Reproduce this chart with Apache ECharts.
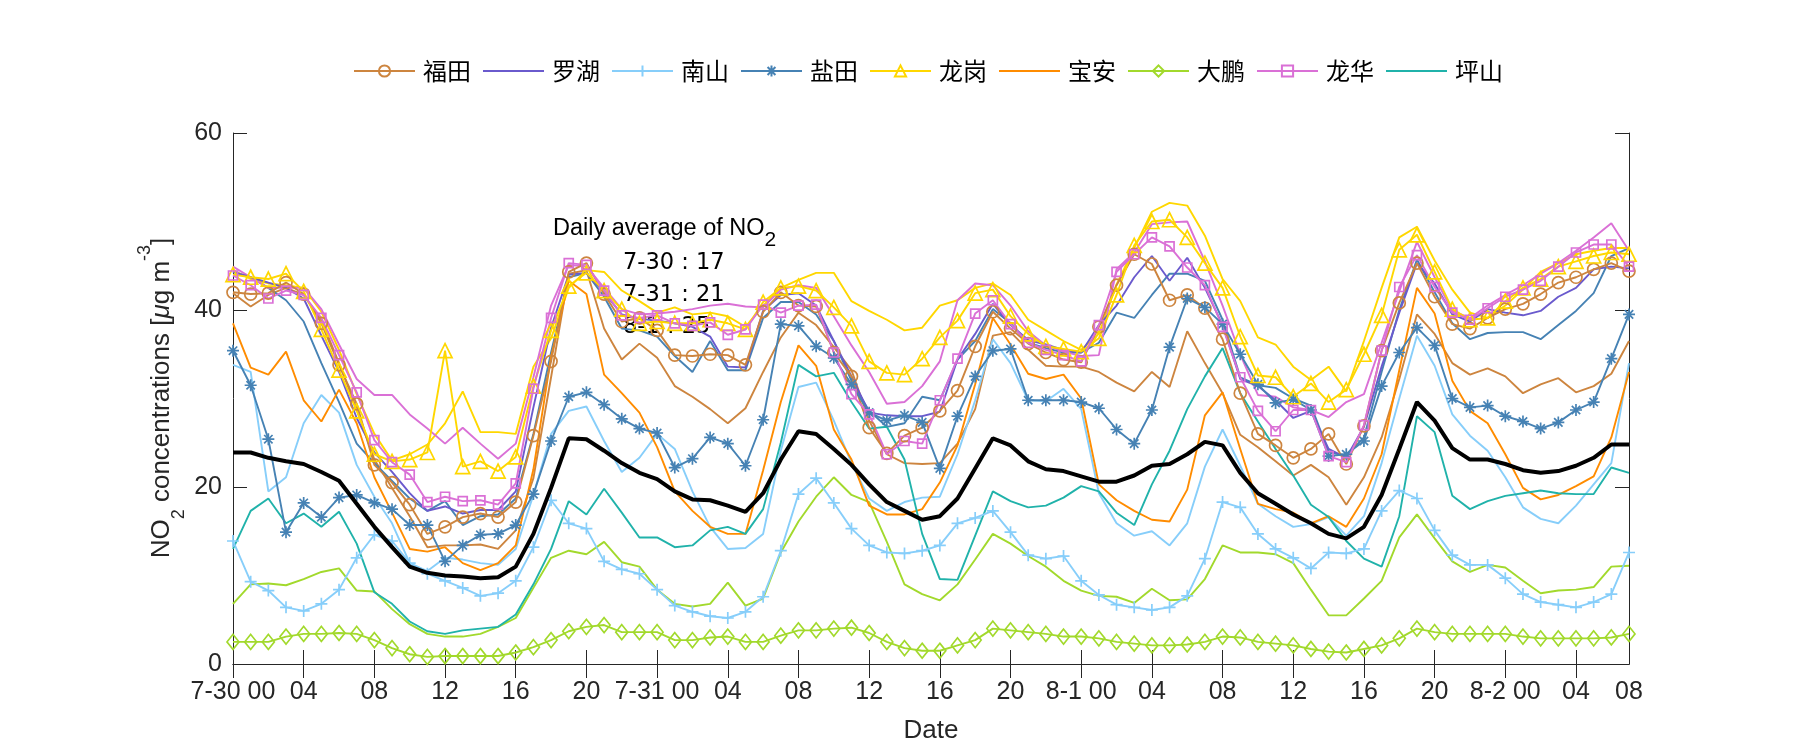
<!DOCTYPE html>
<html>
<head>
<meta charset="utf-8">
<script src="https://cdn.jsdelivr.net/npm/echarts@6/dist/echarts.min.js"></script>
<style>
html,body{margin:0;padding:0;background:#fff;}
#main{width:1800px;height:750px;}
</style>
</head>
<body>
<div id="main"></div>
<script>
// ---- categories (hourly, 7-30 00 .. 8-2 07) ----
const days = ['7-30', '7-31', '8-1', '8-2'];
const categories = [];
for (let i = 0; i < 80; i++) {
  categories.push(days[Math.floor(i / 24)] + ' ' + String(i % 24).padStart(2, '0'));
}
const tickIndex = [0, 4, 8, 12, 16, 20, 24, 28, 32, 36, 40, 44, 48, 52, 56, 60, 64, 68, 72, 76, 79];
const tickLabels = ['7-30 00', '04', '08', '12', '16', '20', '7-31 00', '04', '08', '12', '16', '20',
  '8-1 00', '04', '08', '12', '16', '20', '8-2 00', '04', '08'];
const legendNames = ['福田', '罗湖', '南山', '盐田', '龙岗', '宝安', '大鹏', '龙华', '坪山'];
const plainLegend = ['罗湖', '宝安', '坪山'];
const dailyAvg = [['7-30', 17], ['7-31', 21], ['8-1', 25]];

// ---- series values ----
const futian = [42.0, 41.8, 41.9, 43.1, 41.8, 38.5, 33.8, 29.4, 22.5, 20.5, 18.0, 14.7,
  15.5, 16.6, 17.0, 16.6, 18.3, 25.8, 34.2, 44.3, 45.3, 41.8, 38.7, 39.1,
  37.7, 34.9, 34.8, 35.0, 34.9, 33.8, 39.8, 42.0, 40.5, 40.4, 35.2, 32.5,
  26.7, 23.8, 25.8, 26.7, 28.6, 30.9, 35.9, 39.8, 37.9, 36.2, 35.2, 34.4,
  34.1, 38.1, 42.8, 46.3, 45.2, 41.1, 41.7, 40.2, 36.7, 30.6, 26.0, 24.7,
  23.3, 24.3, 26.0, 22.6, 26.9, 35.4, 40.8, 45.3, 41.5, 38.4, 37.9, 39.1,
  40.1, 40.7, 41.8, 43.1, 43.7, 44.6, 45.3, 44.4];
const futian2 = [41.9, 40.4, 41.7, 42.5, 41.7, 38.9, 34.0, 28.8, 23.1, 19.9, 16.7, 13.2,
  13.4, 13.4, 13.5, 13.0, 15.1, 21.0, 32.4, 44.1, 44.5, 37.9, 34.4, 36.2,
  34.6, 31.4, 30.2, 28.8, 27.2, 28.9, 33.0, 36.9, 39.7, 38.3, 35.8, 33.2,
  27.5, 23.7, 22.7, 22.6, 22.7, 24.9, 28.8, 37.1, 37.5, 35.5, 33.7, 33.6,
  33.6, 33.0, 31.8, 30.8, 33.0, 31.3, 37.6, 34.0, 30.6, 25.9, 24.5, 22.9,
  21.3, 22.5, 21.1, 18.0, 21.1, 25.6, 32.2, 39.5, 37.3, 34.0, 32.7, 33.4,
  32.5, 30.6, 31.6, 32.3, 30.7, 31.4, 32.8, 36.5];
const luohu = [44.3, 43.7, 43.1, 42.5, 41.3, 37.1, 33.0, 27.8, 23.9, 21.7, 19.3, 17.3,
  17.8, 17.0, 17.4, 17.4, 19.5, 29.0, 38.0, 44.0, 44.2, 42.0, 39.5, 39.0,
  38.8, 38.5, 38.1, 37.0, 33.6, 33.5, 39.9, 41.7, 41.9, 40.5, 36.5, 32.5,
  28.4, 28.1, 28.0, 28.0, 28.5, 34.4, 37.3, 40.7, 38.3, 36.6, 36.1, 35.5,
  35.2, 38.3, 40.5, 43.7, 46.1, 43.3, 45.9, 42.5, 38.3, 32.2, 31.4, 29.8,
  27.8, 28.6, 24.3, 23.3, 26.8, 33.6, 39.7, 45.3, 43.0, 39.5, 38.7, 40.1,
  39.7, 39.4, 39.9, 41.5, 42.5, 44.6, 44.9, 44.7];
const nanshan = [13.9, 9.3, 8.3, 6.4, 6.0, 6.8, 8.4, 12.0, 14.6, 13.9, 11.4, 10.2,
  9.4, 8.6, 7.7, 8.0, 9.4, 13.2, 18.5, 15.9, 15.3, 11.6, 10.7, 10.2,
  8.4, 6.6, 5.9, 5.4, 5.2, 5.9, 7.6, 12.8, 19.2, 21.0, 18.2, 15.3,
  13.4, 12.6, 12.5, 12.8, 13.4, 15.9, 16.5, 17.3, 14.9, 12.3, 11.9, 12.2,
  9.4, 7.8, 6.7, 6.4, 6.1, 6.4, 7.7, 11.9, 18.3, 17.7, 14.7, 13.0,
  12.0, 10.8, 12.6, 12.5, 13.0, 17.3, 19.6, 18.7, 15.1, 12.3, 11.2, 11.2,
  9.7, 7.9, 7.0, 6.7, 6.4, 7.0, 7.9, 12.6];
const nanshan2 = [33.8, 33.0, 19.5, 21.1, 27.2, 30.4, 28.4, 22.5, 18.9, 15.9, 11.4, 10.5,
  12.0, 11.8, 11.4, 11.2, 13.0, 19.1, 26.0, 28.6, 29.1, 25.2, 21.7, 23.3,
  26.0, 24.3, 19.5, 15.5, 13.0, 13.1, 14.7, 24.1, 31.3, 31.8, 27.5, 22.7,
  18.7, 17.3, 18.3, 18.8, 18.9, 23.7, 29.8, 36.7, 34.0, 29.8, 29.7, 31.1,
  28.8, 19.3, 15.9, 14.5, 15.0, 13.4, 15.9, 22.3, 26.5, 22.4, 18.1, 16.7,
  15.5, 15.8, 16.6, 14.5, 16.7, 22.7, 30.0, 37.1, 33.7, 28.2, 25.8, 24.1,
  21.1, 17.7, 16.4, 15.9, 17.9, 20.3, 22.7, 34.0];
const yantian = [35.4, 31.5, 25.4, 14.9, 18.2, 16.6, 18.8, 19.1, 18.2, 17.5, 15.7, 15.7,
  11.6, 13.4, 14.6, 14.7, 15.7, 19.2, 25.2, 30.2, 30.7, 29.3, 27.7, 26.6,
  26.1, 22.2, 23.2, 25.6, 24.9, 22.4, 27.6, 38.4, 38.2, 35.9, 34.6, 31.6,
  28.4, 27.5, 28.1, 27.3, 22.1, 28.0, 32.5, 35.4, 35.6, 29.8, 29.8, 29.8,
  29.6, 28.9, 26.5, 24.9, 28.7, 35.8, 41.3, 40.3, 38.4, 35.0, 31.6, 29.5,
  29.9, 28.7, 23.5, 23.7, 25.2, 31.4, 35.2, 38.0, 36.0, 30.0, 29.0, 29.2,
  28.0, 27.4, 26.6, 27.3, 28.7, 29.6, 34.5, 39.5];
const yantian2 = [44.3, 43.7, 42.5, 41.1, 38.7, 34.0, 29.6, 24.9, 22.7, 20.7, 18.7, 17.3,
  18.4, 15.7, 16.7, 16.9, 18.7, 26.0, 35.2, 43.7, 44.2, 41.5, 37.9, 37.7,
  37.0, 34.8, 33.0, 36.5, 33.2, 33.2, 39.1, 40.9, 40.9, 39.5, 36.5, 32.0,
  28.6, 26.8, 27.2, 30.2, 29.8, 34.4, 36.5, 40.1, 38.5, 36.3, 35.7, 35.2,
  35.2, 36.3, 39.7, 39.1, 41.7, 44.1, 44.1, 43.3, 38.9, 32.4, 31.5, 31.2,
  30.0, 29.2, 24.0, 23.5, 25.6, 33.0, 40.0, 45.7, 42.0, 38.5, 36.7, 37.4,
  37.5, 37.5, 36.7, 38.3, 39.9, 41.9, 46.1, 47.0];
const longgang = [44.0, 43.7, 43.5, 44.1, 42.1, 37.8, 33.2, 28.6, 23.7, 22.9, 23.1, 23.9,
  35.4, 22.3, 22.9, 21.8, 23.4, 31.4, 37.7, 42.7, 44.2, 42.2, 40.1, 38.5,
  38.7, 38.5, 38.5, 38.9, 38.5, 37.8, 40.9, 42.5, 42.7, 42.2, 40.3, 38.2,
  34.2, 32.9, 32.7, 34.5, 36.9, 38.8, 41.9, 42.3, 39.3, 37.3, 35.9, 35.6,
  35.3, 36.8, 41.7, 47.3, 50.0, 50.2, 48.2, 45.3, 42.5, 37.0, 32.6, 32.4,
  30.2, 31.7, 29.6, 31.0, 35.0, 39.4, 46.8, 48.5, 44.3, 40.1, 38.9, 39.1,
  41.0, 42.5, 43.5, 44.9, 45.5, 46.1, 46.5, 46.3];
const longgang2 = [44.5, 43.5, 43.0, 42.8, 42.5, 39.8, 35.5, 30.5, 26.0, 23.0, 23.7, 24.8,
  27.2, 30.8, 26.2, 26.2, 26.0, 33.6, 36.8, 42.5, 44.5, 44.3, 42.2, 41.0,
  39.7, 40.3, 39.5, 39.7, 39.3, 38.1, 40.5, 42.5, 43.4, 44.2, 44.2, 41.0,
  39.9, 38.9, 37.7, 38.0, 40.5, 41.1, 42.5, 43.0, 41.7, 38.9, 37.7, 36.5,
  35.5, 37.3, 42.9, 47.0, 51.1, 52.1, 51.8, 48.4, 43.5, 41.0, 36.9, 36.1,
  33.6, 32.1, 33.6, 30.8, 36.5, 42.5, 48.2, 49.4, 45.6, 42.3, 39.7, 39.1,
  40.5, 42.3, 44.3, 45.3, 46.3, 46.7, 47.0, 47.0];
const baoan = [38.5, 33.5, 32.7, 35.3, 29.8, 27.4, 31.0, 27.2, 21.1, 17.1, 13.0, 12.7,
  13.2, 11.4, 10.6, 11.4, 13.4, 22.0, 34.7, 43.3, 41.8, 32.7, 30.6, 28.4,
  24.5, 19.5, 17.3, 15.5, 14.7, 14.7, 21.9, 29.6, 36.0, 33.7, 26.5, 23.1,
  17.9, 16.9, 16.9, 17.5, 20.5, 24.7, 31.6, 39.1, 36.1, 32.8, 32.2, 32.7,
  30.0, 20.3, 18.5, 17.3, 16.3, 16.1, 19.7, 28.1, 30.7, 24.3, 18.1, 17.5,
  17.1, 15.9, 16.7, 15.5, 18.7, 23.7, 33.2, 42.5, 39.6, 32.0, 28.6, 27.2,
  23.7, 19.9, 18.6, 19.1, 20.1, 21.2, 25.6, 33.0];
const dapeng = [2.5, 2.5, 2.5, 3.1, 3.4, 3.4, 3.5, 3.4, 2.7, 1.8, 1.1, 0.8,
  0.9, 0.9, 0.9, 0.9, 1.3, 1.9, 2.7, 3.7, 4.2, 4.4, 3.6, 3.6,
  3.6, 2.7, 2.7, 3.0, 3.1, 2.5, 2.5, 3.2, 3.8, 3.8, 4.0, 4.1,
  3.5, 2.5, 1.8, 1.5, 1.5, 2.1, 2.7, 4.0, 3.8, 3.6, 3.4, 3.1,
  3.1, 2.9, 2.5, 2.3, 2.1, 2.1, 2.2, 2.5, 3.1, 3.0, 2.5, 2.3,
  2.1, 1.7, 1.4, 1.3, 1.7, 2.1, 2.9, 4.0, 3.6, 3.4, 3.4, 3.4,
  3.4, 3.1, 2.9, 2.9, 2.9, 2.9, 3.0, 3.4];
const dapeng2 = [6.8, 9.0, 9.1, 8.9, 9.6, 10.4, 10.8, 8.3, 8.2, 6.2, 4.5, 3.4,
  3.1, 3.1, 3.4, 4.2, 5.2, 8.6, 12.0, 12.8, 12.4, 13.8, 11.5, 11.0,
  8.4, 6.8, 6.5, 6.8, 9.2, 6.6, 7.4, 12.6, 16.1, 18.9, 21.1, 19.1,
  18.3, 13.8, 9.0, 7.9, 7.2, 9.0, 11.8, 14.7, 13.6, 12.2, 11.0, 9.4,
  8.3, 7.7, 7.6, 6.9, 8.5, 7.2, 7.3, 9.6, 13.4, 12.6, 12.6, 12.4,
  11.4, 8.4, 5.5, 5.5, 7.4, 9.4, 14.3, 16.9, 14.2, 11.6, 10.4, 11.2,
  10.9, 9.4, 8.0, 8.3, 8.4, 8.7, 11.0, 11.1];
const longhua = [43.9, 42.8, 41.3, 42.2, 41.7, 39.1, 34.9, 30.7, 25.3, 22.8, 21.4, 18.3,
  18.9, 18.4, 18.5, 18.0, 20.4, 31.1, 39.1, 45.3, 45.1, 42.2, 39.4, 39.1,
  39.4, 38.5, 38.2, 38.6, 37.2, 37.8, 40.6, 39.7, 40.5, 40.6, 35.2, 30.5,
  28.2, 23.7, 25.2, 24.9, 29.8, 34.5, 39.6, 41.1, 38.4, 36.3, 35.5, 34.9,
  34.2, 38.3, 44.3, 46.3, 48.2, 47.2, 44.8, 42.8, 38.1, 32.4, 28.6, 26.3,
  28.7, 28.7, 23.5, 22.8, 27.0, 35.4, 42.6, 46.2, 42.6, 39.7, 38.9, 40.2,
  41.5, 42.3, 43.3, 44.9, 46.5, 47.4, 47.4, 44.9];
const longhua2 = [44.9, 43.7, 42.5, 42.5, 42.5, 40.1, 36.1, 32.2, 30.4, 30.4, 28.2, 26.6,
  24.9, 26.7, 24.9, 23.2, 24.9, 32.4, 40.5, 45.1, 44.9, 42.5, 40.1, 39.5,
  39.6, 39.8, 40.1, 40.5, 40.7, 40.4, 40.3, 42.3, 42.8, 42.5, 39.3, 36.0,
  33.0, 29.4, 29.6, 31.4, 34.2, 41.1, 43.0, 42.8, 40.5, 37.6, 36.0, 35.3,
  34.8, 34.9, 44.6, 46.5, 49.7, 49.9, 50.0, 45.5, 40.5, 35.0, 30.4, 30.2,
  29.0, 28.7, 27.9, 29.6, 30.5, 36.3, 42.1, 47.7, 43.7, 39.9, 39.1, 40.5,
  41.7, 42.8, 44.1, 45.3, 46.7, 48.2, 49.8, 46.7];
const pingshan = [13.0, 17.3, 18.7, 15.9, 17.0, 15.5, 17.2, 13.6, 8.1, 6.8, 4.8, 3.7,
  3.4, 3.8, 4.0, 4.2, 5.6, 9.0, 13.0, 18.4, 16.9, 19.8, 17.1, 14.3,
  14.3, 13.2, 13.4, 15.1, 15.5, 14.7, 17.5, 25.0, 33.8, 32.5, 32.9, 29.6,
  26.6, 26.8, 23.1, 14.7, 9.6, 9.5, 14.5, 19.5, 18.4, 17.7, 17.9, 18.8,
  20.1, 19.5, 17.1, 15.7, 20.3, 24.1, 28.8, 32.5, 35.7, 30.6, 27.4, 24.3,
  21.3, 18.0, 16.6, 13.9, 11.9, 11.0, 16.7, 28.0, 26.2, 19.0, 17.5, 18.4,
  19.0, 19.3, 19.6, 19.3, 19.2, 19.2, 22.2, 21.6];
const average = [23.9, 23.9, 23.3, 22.9, 22.6, 21.7, 20.7, 18.1, 15.5, 13.2, 11.0, 10.3,
  10.0, 9.9, 9.7, 9.8, 11.0, 14.7, 19.9, 25.5, 25.4, 24.1, 22.7, 21.6,
  20.9, 19.5, 18.6, 18.5, 17.9, 17.2, 19.3, 23.1, 26.3, 26.0, 24.3, 22.5,
  20.3, 18.3, 17.3, 16.3, 16.7, 18.7, 22.1, 25.5, 24.7, 22.9, 22.0, 21.8,
  21.2, 20.6, 20.6, 21.3, 22.4, 22.6, 23.7, 25.1, 24.7, 21.6, 19.3, 18.1,
  16.9, 15.9, 14.7, 14.2, 15.5, 19.1, 24.3, 29.6, 27.5, 24.4, 23.1, 23.1,
  22.6, 21.9, 21.6, 21.8, 22.4, 23.3, 24.8, 24.8];

// ---- styling ----
const C = {
  ft: '#CD853F', lu: '#6A5ACD', ns: '#87CEFA', yt: '#4682B4', lg: '#FFD700',
  ba: '#FF8C00', dp: '#A2D92C', lh: '#DA70D6', ps: '#20B2AA'
};
const PLUS = 'path://M0,5L10,5M5,0L5,10';
const STAR = 'path://M0,5L10,5M5,0L5,10M1.5,1.5L8.5,8.5M1.5,8.5L8.5,1.5';
const LW = 1.9;

function plain(name, data, color) {
  return {
    name, type: 'line', data, symbol: 'none', showSymbol: false,
    lineStyle: { color, width: LW }, itemStyle: { color }, z: 2,
    emphasis: { disabled: true }
  };
}
function marked(name, data, color, symbol, size) {
  return {
    name, type: 'line', data, symbol, symbolSize: size, showSymbol: true, showAllSymbol: true,
    lineStyle: { color, width: LW },
    itemStyle: { color: 'rgba(0,0,0,0)', borderColor: color, borderWidth: 1.7 },
    z: 3, emphasis: { disabled: true }
  };
}

const series = [
  plain('福田 ', futian2, C.ft),
  plain('南山 ', nanshan2, C.ns),
  plain('盐田 ', yantian2, C.yt),
  plain('龙岗 ', longgang2, C.lg),
  plain('大鹏 ', dapeng2, C.dp),
  plain('龙华 ', longhua2, C.lh),
  marked('福田', futian, C.ft, 'circle', 12),
  plain('罗湖', luohu, C.lu),
  marked('南山', nanshan, C.ns, PLUS, 12),
  marked('盐田', yantian, C.yt, STAR, 12),
  marked('龙岗', longgang, C.lg, 'triangle', 14),
  plain('宝安', baoan, C.ba),
  marked('大鹏', dapeng, C.dp, 'diamond', [12, 15]),
  marked('龙华', longhua, C.lh, 'rect', 9),
  plain('坪山', pingshan, C.ps),
  {
    name: 'average', type: 'line', data: average, symbol: 'none', showSymbol: false,
    lineStyle: { color: '#000', width: 4 }, itemStyle: { color: '#000' }, z: 4,
    emphasis: { disabled: true }
  }
];

const axisColor = '#262626';
const tickFont = 'Liberation Sans';

const option = {
  animation: false,
  backgroundColor: '#fff',
  grid: { left: 233, right: 171, top: 133, bottom: 86, containLabel: false },
  legend: {
    data: legendNames.map(n => plainLegend.indexOf(n) >= 0 ? { name: n, itemStyle: { opacity: 0 } } : n),
    left: 348, top: 54, itemWidth: 61, itemHeight: 14, itemGap: 11,
    textStyle: { fontFamily: 'Noto Sans CJK SC', fontSize: 24, color: '#000', padding: [0, 0, 0, 3] },
    selectedMode: false
  },
  xAxis: [{
    type: 'category', data: categories, boundaryGap: false, position: 'bottom',
    axisLine: { lineStyle: { color: axisColor, width: 1 } },
    axisTick: { inside: true, length: 14, lineStyle: { color: axisColor }, interval: (i) => i % 4 === 0 },
    axisLabel: {
      interval: (i) => tickIndex.indexOf(i) >= 0,
      formatter: (v, i) => { const k = tickIndex.indexOf(i); return k >= 0 ? tickLabels[k] : ''; },
      fontFamily: tickFont, fontSize: 25, color: axisColor, margin: 16
    },
    splitLine: { show: false }
  }, {
    type: 'category', data: categories, boundaryGap: false, position: 'top',
    axisLine: { lineStyle: { color: axisColor, width: 1 } },
    axisTick: { inside: true, length: 14, lineStyle: { color: axisColor }, interval: (i) => i % 4 === 0 },
    axisLabel: { show: false }, splitLine: { show: false }
  }],
  yAxis: [{
    type: 'value', min: 0, max: 60, interval: 20, position: 'left',
    axisLine: { show: true, lineStyle: { color: axisColor, width: 1 } },
    axisTick: { show: true, inside: true, length: 14, lineStyle: { color: axisColor } },
    axisLabel: { fontFamily: tickFont, fontSize: 25, color: axisColor, margin: 11 },
    splitLine: { show: false }
  }, {
    type: 'value', min: 0, max: 60, interval: 20, position: 'right',
    axisLine: { show: true, lineStyle: { color: axisColor, width: 1 } },
    axisTick: { show: true, inside: true, length: 14, lineStyle: { color: axisColor } },
    axisLabel: { show: false }, splitLine: { show: false }
  }],
  series,
  graphic: [
    {
      type: 'text', x: 162, y: 398, rotation: Math.PI / 2, z: 0,
      style: {
        text: '{a|NO}{s|2}{a| concentrations [}{m|μ}{a|g m}{p|-3}{a|]}',
        align: 'center', verticalAlign: 'middle',
        rich: {
          a: { fontFamily: tickFont, fontSize: 26, lineHeight: 52, fill: axisColor },
          m: { fontFamily: tickFont, fontSize: 26, fontStyle: 'italic', lineHeight: 52, fill: axisColor },
          s: { fontFamily: tickFont, fontSize: 18, lineHeight: 22, verticalAlign: 'bottom', fill: axisColor },
          p: { fontFamily: tickFont, fontSize: 18, lineHeight: 18, verticalAlign: 'top', fill: axisColor }
        }
      }
    },
    {
      type: 'text', x: 931, y: 731, z: 0,
      style: { text: 'Date', fontFamily: tickFont, fontSize: 26, fill: axisColor, align: 'center', verticalAlign: 'middle' }
    },
    {
      type: 'text', x: 553, y: 229, z: 0,
      style: {
        text: '{a|Daily average of NO}{s|2}', align: 'left', verticalAlign: 'middle',
        rich: {
          a: { fontFamily: tickFont, fontSize: 23.5, lineHeight: 44, fill: '#000' },
          s: { fontFamily: tickFont, fontSize: 21, lineHeight: 20, verticalAlign: 'bottom', fill: '#000' }
        }
      }
    }
  ].concat(dailyAvg.map((d, k) => ({
    type: 'text', x: 623, y: 263 + k * 32, z: 0,
    style: { text: d[0] + ' : ' + d[1], fontFamily: 'DejaVu Sans', fontSize: 22.5, fill: '#000', align: 'left', verticalAlign: 'middle' }
  })))
};

const chart = echarts.init(document.getElementById('main'), null, { renderer: 'canvas' });
chart.setOption(option);
</script>
</body>
</html>
